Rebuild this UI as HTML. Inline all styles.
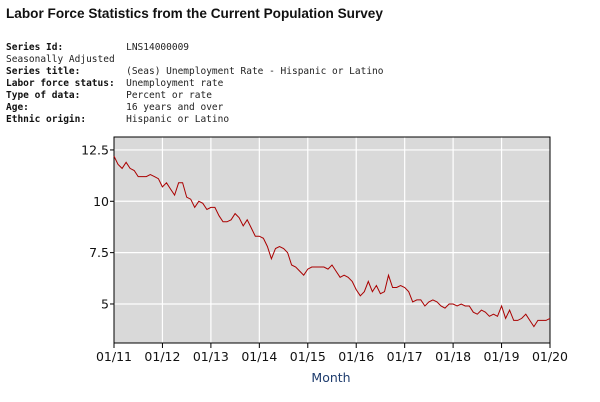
<!DOCTYPE html>
<html><head><meta charset="utf-8"><style>
body{margin:0;width:600px;height:402px;background:#fff;overflow:hidden;position:relative;font-family:"Liberation Sans",sans-serif}
h1{position:absolute;left:6px;top:6px;margin:0;font-size:13.6px;font-weight:bold;color:#111}
.meta{position:absolute;left:6px;top:42px;font-family:"DejaVu Sans Mono","Liberation Mono",monospace;font-size:9.5px;line-height:12px;color:#222;white-space:pre}
.meta b{color:#111}
</style></head><body>
<h1>Labor Force Statistics from the Current Population Survey</h1>
<div class="meta"><b>Series Id:</b>           LNS14000009
Seasonally Adjusted
<b>Series title:</b>        (Seas) Unemployment Rate - Hispanic or Latino
<b>Labor force status:</b>  Unemployment rate
<b>Type of data:</b>        Percent or rate
<b>Age:</b>                 16 years and over
<b>Ethnic origin:</b>       Hispanic or Latino</div>
<svg id="chart" width="600" height="402" style="position:absolute;left:0;top:0"></svg>
<script>
const xTickLabels=["01/11","01/12","01/13","01/14","01/15","01/16","01/17","01/18","01/19","01/20"];
const yTickValues=[5,7.5,10,12.5];
const yTickLabels=["5","7.5","10","12.5"];
const rates=[12.2,11.8,11.6,11.9,11.6,11.5,11.2,11.2,11.2,11.3,11.2,11.1,
10.7,10.9,10.6,10.3,10.9,10.9,10.2,10.1,9.7,10.0,9.9,9.6,
9.7,9.7,9.3,9.0,9.0,9.1,9.4,9.2,8.8,9.1,8.7,8.3,
8.3,8.2,7.8,7.2,7.7,7.8,7.7,7.5,6.9,6.8,6.6,6.4,
6.7,6.8,6.8,6.8,6.8,6.7,6.9,6.6,6.3,6.4,6.3,6.1,
5.7,5.4,5.6,6.1,5.6,5.9,5.5,5.6,6.4,5.8,5.8,5.9,
5.8,5.6,5.1,5.2,5.2,4.9,5.1,5.2,5.1,4.9,4.8,5.0,
5.0,4.9,5.0,4.9,4.9,4.6,4.5,4.7,4.6,4.4,4.5,4.4,
4.9,4.3,4.7,4.2,4.2,4.3,4.5,4.2,3.9,4.2,4.2,4.2,
4.3];
const L=114,R=550,T=137,B=343;
const yMin=3.1,yMax=13.13;
const nMonths=(xTickLabels.length-1)*12;
const xs=i=>L+(R-L)*i/nMonths;
const ys=v=>B-(B-T)*(v-yMin)/(yMax-yMin);
const svg=document.getElementById('chart');
const NS='http://www.w3.org/2000/svg';
function mk(tag,attrs,parent){const e=document.createElementNS(NS,tag);for(const k in attrs)e.setAttribute(k,attrs[k]);(parent||svg).appendChild(e);return e;}
const bg=mk('rect',{x:L,y:T,width:R-L,height:B-T,fill:'#d9d9d9'});


xTickLabels.forEach((lab,i)=>{
  const x=xs(i*12);
  if(i>0&&i<xTickLabels.length-1){const g=mk('line',{x1:x,x2:x,y1:T,y2:B,stroke:'#fff','stroke-width':1.2});
  
  }
  const tk=mk('line',{x1:x,x2:x,y1:B,y2:B+5,stroke:'#000'});
  
  
  const t=mk('text',{x:x,y:B+18,'text-anchor':'middle','font-size':'12.5','font-family':'DejaVu Sans, sans-serif',fill:'#111'});
  t.textContent=lab;
  
  
});
yTickValues.forEach((v,i)=>{
  const y=ys(v);
  const g=mk('line',{x1:L,x2:R,y1:y,y2:y,stroke:'#fff','stroke-width':1.2});
  
  
  const tk=mk('line',{x1:L-4,x2:L,y1:y,y2:y,stroke:'#000'});
  
  
  const t=mk('text',{x:L-5,y:y+4.5,'text-anchor':'end','font-size':'12.5','font-family':'DejaVu Sans, sans-serif',fill:'#111'});
  t.textContent=yTickLabels[i];
  
  
});
const fr=mk('rect',{x:L,y:T,width:R-L,height:B-T,fill:'none',stroke:'#000','stroke-width':1});


const pts=rates.map((v,i)=>xs(i).toFixed(1)+','+ys(v).toFixed(1)).join(' ');
const line=mk('polyline',{points:pts,fill:'none',stroke:'#aa0000','stroke-width':1});


const xt=mk('text',{x:331,y:382,'text-anchor':'middle','font-size':'12.5','font-family':'DejaVu Sans, sans-serif',fill:'#1f3d6e'});
xt.textContent='Month';


</script>
</body></html>
